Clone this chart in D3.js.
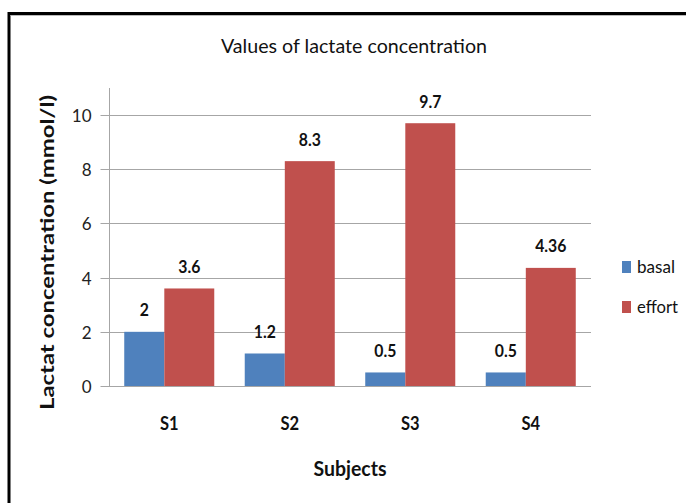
<!DOCTYPE html>
<html><head><meta charset="utf-8">
<script src="https://cdn.jsdelivr.net/npm/d3@7/dist/d3.min.js"></script>
<style>
html,body{margin:0;padding:0;background:#fff;overflow:hidden}
svg{display:block;font-family:Lato,"Open Sans",sans-serif}
</style></head>
<body>
<svg id="c" width="686" height="503"></svg>
<script>
const categories = ["S1","S2","S3","S4"];
const seriesNames = ["basal","effort"];
const basal = [2, 1.2, 0.5, 0.5];
const effort = [3.6, 8.3, 9.7, 4.36];
const basalLabels = ["2","1.2","0.5","0.5"];
const effortLabels = ["3.6","8.3","9.7","4.36"];
const yTicks = [0,2,4,6,8,10];

const colors = ["#4F81BD","#C0504D"];
const seriesShare = [0.445, 0.555];
const svg = d3.select("#c");

// border
svg.append("rect").attr("x",9).attr("y",13.5).attr("width",700).attr("height",520)
  .attr("fill","none").attr("stroke","#000").attr("stroke-width",3);
svg.append("line").attr("x1",10.5).attr("x2",686).attr("y1",15.5).attr("y2",15.5)
  .attr("stroke","#bbb").attr("stroke-width",1);

const pLeft=109, pRight=591, pTop=88, pBottom=386;
const x0 = d3.scaleBand().domain(categories).range([pLeft,pRight]).paddingInner(0.253).paddingOuter(0.1265);
const y = d3.scaleLinear().domain([0,11]).range([pBottom,pTop]);

// gridlines
svg.append("g").selectAll("line").data(yTicks.filter(d=>d>0)).join("line")
  .attr("x1",pLeft).attr("x2",pRight).attr("y1",d=>Math.round(y(d))+0.5).attr("y2",d=>Math.round(y(d))+0.5)
  .attr("stroke","#a6a6a6").attr("stroke-width",1);

// y axis
const yAxis = svg.append("g").attr("transform",`translate(${pLeft+0.5},0)`)
  .call(d3.axisLeft(y).tickValues(yTicks).tickSize(9).tickPadding(9).tickFormat(d3.format("d")));
yAxis.select(".domain").attr("stroke","#a6a6a6").attr("d",`M0,${pTop}V${pBottom+0.5}`);
yAxis.selectAll(".tick line").attr("stroke","#a6a6a6");
yAxis.selectAll(".tick").attr("transform",d=>`translate(0,${Math.round(y(d))+0.5})`);
yAxis.selectAll(".tick text").attr("font-family","Lato").attr("font-size",17).attr("fill","#222").attr("dy","0.36em");

// series data
const seriesVals = [basal, effort];
const seriesLbls = [basalLabels, effortLabels];
const flat = [];
categories.forEach((c,i)=>{
  let off = 0;
  seriesVals.forEach((vals,s)=>{
    flat.push({c, s, v: vals[i], lbl: seriesLbls[s][i], off, share: seriesShare[s]});
    off += seriesShare[s];
  });
});
const bw = x0.bandwidth();
svg.append("g").selectAll("rect").data(flat).join("rect")
  .attr("x",d=>x0(d.c)+d.off*bw)
  .attr("width",d=>d.share*bw)
  .attr("y",d=>y(d.v))
  .attr("height",d=>pBottom-y(d.v))
  .attr("fill",d=>colors[d.s]);

// x baseline
svg.append("line").attr("x1",pLeft).attr("x2",pRight).attr("y1",pBottom+0.5).attr("y2",pBottom+0.5)
  .attr("stroke","#a6a6a6");

// value labels
svg.append("g").selectAll("text").data(flat).join("text")
  .attr("transform",d=>`translate(${x0(d.c)+(d.off+d.share/2)*bw},${y(d.v)-15.5}) scale(0.93,1)`)
  .attr("text-anchor","middle").attr("font-weight","bold").attr("font-size",17).attr("fill","#111")
  .text(d=>d.lbl);

// category labels
svg.append("g").selectAll("text").data(categories).join("text")
  .attr("transform",d=>`translate(${x0(d)+bw/2},430) scale(0.92,1)`)
  .attr("text-anchor","middle").attr("font-weight","bold").attr("font-size",18).attr("fill","#111")
  .text(d=>d);

// title
svg.append("text").attr("x",354).attr("y",53).attr("text-anchor","middle")
  .attr("font-size",19).attr("fill","#111").attr("textLength",266).attr("lengthAdjust","spacingAndGlyphs")
  .text("Values of lactate concentration");

// x title
svg.append("text").attr("x",350).attr("y",476).attr("text-anchor","middle")
  .attr("font-size",20).attr("font-weight","bold").attr("fill","#111")
  .attr("textLength",73).attr("lengthAdjust","spacingAndGlyphs").text("Subjects");

// y title
svg.append("text").attr("transform","translate(54,252.5) rotate(-90)").attr("text-anchor","middle")
  .attr("font-size",18).attr("font-weight","bold").attr("fill","#111")
  .attr("textLength",315).attr("lengthAdjust","spacingAndGlyphs").text("Lactat concentration (mmol/l)");

// legend
const leg = svg.append("g").selectAll("g").data(seriesNames).join("g")
  .attr("transform",(d,i)=>`translate(622,${261+i*40})`);
leg.append("rect").attr("width",9).attr("height",12).attr("fill",(d,i)=>colors[i]);
leg.append("text").attr("x",15).attr("y",12).attr("font-size",17).attr("fill","#111")
  .attr("textLength",(d,i)=>i===0?38:41).attr("lengthAdjust","spacingAndGlyphs").text(d=>d);
</script>
</body></html>
